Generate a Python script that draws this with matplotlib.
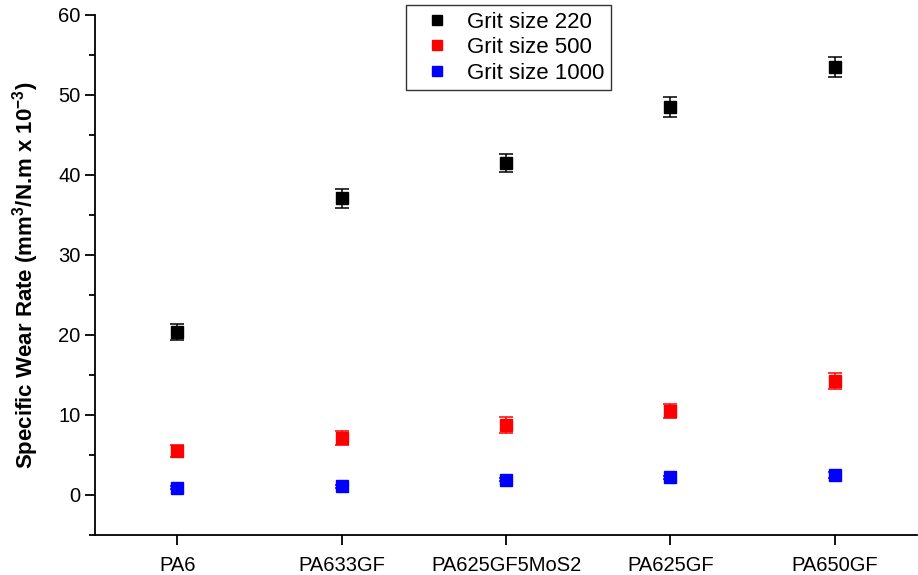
import matplotlib.pyplot as plt
import numpy as np
from matplotlib.ticker import MultipleLocator
from matplotlib.lines import Line2D

plt.rcParams['font.family'] = ['Liberation Sans', 'DejaVu Sans']
plt.rcParams['mathtext.default'] = 'regular'

# data
materials = ['PA6', 'PA633GF', 'PA625GF5MoS2', 'PA625GF', 'PA650GF']
grit220 = [20.4, 37.1, 41.5, 48.5, 53.5]
grit220_err = [1.0, 1.2, 1.1, 1.3, 1.3]
grit500 = [5.5, 7.1, 8.7, 10.5, 14.3]
grit500_err = [0.8, 0.9, 1.0, 0.9, 1.0]
grit1000 = [0.9, 1.1, 1.9, 2.2, 2.5]
grit1000_err = [0.2, 0.2, 0.2, 0.2, 0.4]

series = [
    ('Grit size 220', grit220, grit220_err, '#000000'),
    ('Grit size 500', grit500, grit500_err, '#ff0000'),
    ('Grit size 1000', grit1000, grit1000_err, '#0000ff'),
]

fig = plt.figure(figsize=(9.18, 5.75), dpi=100)
ax = fig.add_axes([0.1035, 0.0696, 0.8955, 0.9044])

x = np.arange(len(materials))
handles = []
for label, vals, errs, col in series:
    ax.errorbar(x, vals, yerr=errs, fmt='s', color=col, ecolor=col,
                markersize=8, capsize=5, elinewidth=1.1, capthick=1.1)
    handles.append(Line2D([], [], ls='none', marker='s', color=col,
                          markersize=7, label=label))

ax.set_xlim(-0.5, 4.5)
ax.set_ylim(-5, 60)
ax.set_xticks(x)
ax.set_xticklabels(materials)
ax.yaxis.set_major_locator(MultipleLocator(10))
ax.yaxis.set_minor_locator(MultipleLocator(5))

for side in ['top', 'right']:
    ax.spines[side].set_visible(False)
for side in ['left', 'bottom']:
    ax.spines[side].set_linewidth(1.3)

ax.tick_params(axis='both', which='major', direction='out', length=7, width=1.3,
               labelsize=14.5)
ax.tick_params(axis='y', which='minor', direction='out', length=4, width=1.3)
ax.tick_params(axis='x', pad=8)

ax.set_ylabel('Specific Wear Rate (mm$^{3}$/N.m x 10$^{-3}$)', fontsize=16,
              fontweight='bold', labelpad=12)

leg = fig.legend(handles=handles, loc='upper left',
                 bbox_to_anchor=(406 / 918, 1 - 5 / 575),
                 fontsize=16, frameon=True, fancybox=False, edgecolor='black',
                 handletextpad=0.25, borderpad=0.3, labelspacing=0.2,
                 handlelength=2.2, borderaxespad=0)
leg.get_frame().set_linewidth(1.0)

plt.savefig('out.png', dpi=100)
